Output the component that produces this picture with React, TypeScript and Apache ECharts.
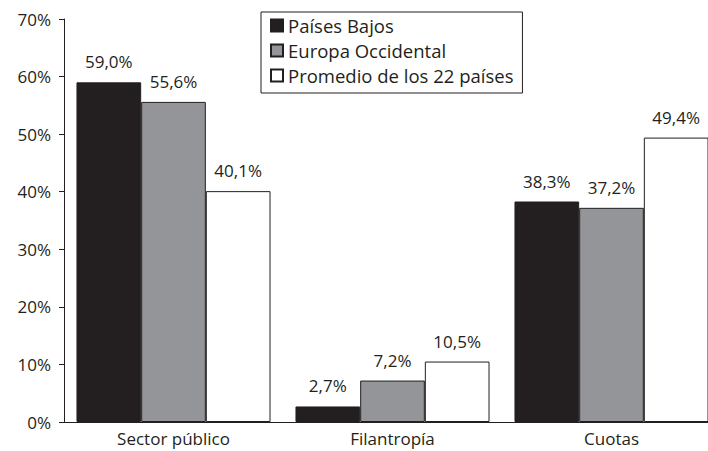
import React, { useEffect, useRef } from "react";
import * as echarts from "echarts";

const categories = ["Sector público", "Filantropía", "Cuotas"];
const seriesNames = ["Países Bajos", "Europa Occidental", "Promedio de los 22 países"];
const paisesBajos = [59.0, 2.7, 38.3];
const europaOccidental = [55.6, 7.2, 37.2];
const promedio22 = [40.1, 10.5, 49.4];
const yTicks = [0, 10, 20, 30, 40, 50, 60, 70];

const colors = ["#231f20", "#939598", "#ffffff"];
const FONT = "Open Sans";
const TEXT = "#231f20";

export default function App() {
  const ref = useRef<HTMLDivElement>(null);
  useEffect(() => {
    if (!ref.current) return;
    const chart = echarts.init(ref.current, undefined, { renderer: "svg" });
    const values = [paisesBajos, europaOccidental, promedio22];
    chart.setOption({
      animation: false,
      textStyle: { fontFamily: FONT, color: TEXT },
      grid: { left: 64, top: 19, height: 403, width: 657, containLabel: false, outerBoundsMode: "none" },
      legend: {
        show: true,
        orient: "vertical",
        left: 261,
        top: 12,
        padding: [4, 9, 8, 9],
        itemWidth: 12,
        itemHeight: 12,
        itemGap: 6,
        borderColor: TEXT,
        borderWidth: 1,
        backgroundColor: "#ffffff",
        selectedMode: false,
        data: seriesNames.map((n) => ({ name: n, icon: "rect" })),
        textStyle: { fontFamily: FONT, fontSize: 18.5, color: TEXT, lineHeight: 17, padding: [0, 0, 0, 0] },
      },
      xAxis: {
        type: "category",
        data: categories,
        axisLine: { show: true, lineStyle: { color: TEXT, width: 1 } },
        axisTick: { show: false },
        axisLabel: { fontFamily: FONT, fontSize: 17, color: TEXT, margin: 8 },
      },
      yAxis: {
        type: "value",
        min: 0,
        max: 70,
        interval: 10,
        splitLine: { show: false },
        axisLine: { show: true, lineStyle: { color: TEXT, width: 1 } },
        axisTick: { show: true, length: 5, lineStyle: { color: TEXT } },
        axisLabel: {
          fontFamily: FONT,
          fontSize: 17,
          color: TEXT,
          margin: 13,
          formatter: (v: number) => (yTicks.includes(v) ? `${v}%` : ""),
        },
      },
      series: seriesNames.map((name, i) => ({
        name,
        type: "bar",
        data: values[i],
        barGap: "0%",
        barCategoryGap: "11.4%",
        itemStyle: { color: colors[i], borderColor: TEXT, borderWidth: 1 },
        label: {
          show: true,
          position: "top",
          distance: 12,
          fontFamily: FONT,
          fontSize: 17,
          color: TEXT,
          formatter: (p: any) => `${p.value.toFixed(1).replace(".", ",")}%`,
        },
      })),
    });
    return () => chart.dispose();
  }, []);
  return <div ref={ref} style={{ width: 708, height: 451, position: "absolute", left: 0, top: 0, overflow: "hidden" }} />;
}
